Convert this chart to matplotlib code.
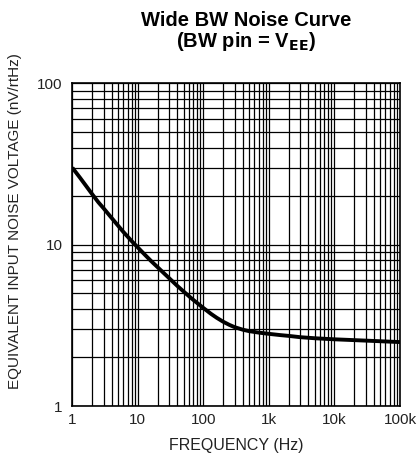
import matplotlib
matplotlib.use("Agg")
import matplotlib.pyplot as plt
from matplotlib.ticker import FixedLocator, FixedFormatter, LogLocator, NullFormatter

plt.rcParams['font.family'] = ['Liberation Sans', 'DejaVu Sans']

freq_hz = [1, 1.3, 1.6, 2, 2.5, 3, 4, 5, 6, 7, 8, 10, 13, 16, 20, 25, 30, 40, 50,
           60, 70, 85, 100, 130, 160, 200, 250, 300, 400, 500, 700, 1000,
           1500, 2000, 3000, 5000, 10000, 20000, 50000, 100000]
noise_nv = [30, 26.1, 23.3, 20.6, 18.3, 16.8, 14.6, 13.1, 12.0, 11.2, 10.55, 9.6,
            8.6, 7.9, 7.25, 6.65, 6.2, 5.55, 5.12, 4.8, 4.55, 4.27, 4.05, 3.73,
            3.52, 3.33, 3.18, 3.08, 2.97, 2.91, 2.85, 2.8, 2.75, 2.72, 2.67, 2.63,
            2.59, 2.56, 2.52, 2.49]

x_ticks = [1, 10, 100, 1000, 10000, 100000]
x_tick_labels = ["1", "10", "100", "1k", "10k", "100k"]
y_ticks = [1, 10, 100]
y_tick_labels = ["1", "10", "100"]

fig = plt.figure(figsize=(4.19, 4.61), dpi=100)
ax = fig.add_axes([0.1726, 0.1193, 0.7821, 0.7000])

ax.set_xscale('log')
ax.set_yscale('log')
ax.set_xlim(1, 100000)
ax.set_ylim(1, 100)

ax.xaxis.set_major_locator(FixedLocator(x_ticks))
ax.xaxis.set_major_formatter(FixedFormatter(x_tick_labels))
ax.yaxis.set_major_locator(FixedLocator(y_ticks))
ax.yaxis.set_major_formatter(FixedFormatter(y_tick_labels))
ax.xaxis.set_minor_locator(LogLocator(base=10, subs=range(2, 10), numticks=20))
ax.yaxis.set_minor_locator(LogLocator(base=10, subs=range(2, 10), numticks=20))
ax.xaxis.set_minor_formatter(NullFormatter())
ax.yaxis.set_minor_formatter(NullFormatter())

ax.grid(True, which='both', color='black', linewidth=0.9)
ax.tick_params(which='both', length=0, labelsize=11, colors='#222222')
ax.tick_params(axis='x', pad=5)
ax.tick_params(axis='y', pad=7)
for s in ax.spines.values():
    s.set_linewidth(1.2)
    s.set_color('black')

ax.plot(freq_hz, noise_nv, color='black', linewidth=2.8, solid_joinstyle='round',
        solid_capstyle='butt', zorder=5)

ax.set_xlabel("FREQUENCY (Hz)", fontsize=11.5, color='#222222', labelpad=8)
fig.text(0.036, 0.52, "EQUIVALENT INPUT NOISE VOLTAGE (nV/rtHz)", rotation=90,
         ha='center', va='center', fontsize=11, color='#222222')

fig.text(0.588, 0.955, "Wide BW Noise Curve", ha='center', va='center',
         fontsize=14.5, fontweight='bold')
fig.text(0.588, 0.909, r"(BW pin = V$_{\mathbf{EE}}$)", ha='center', va='center',
         fontsize=14.5, fontweight='bold')

fig.savefig("out.png", dpi=100)
